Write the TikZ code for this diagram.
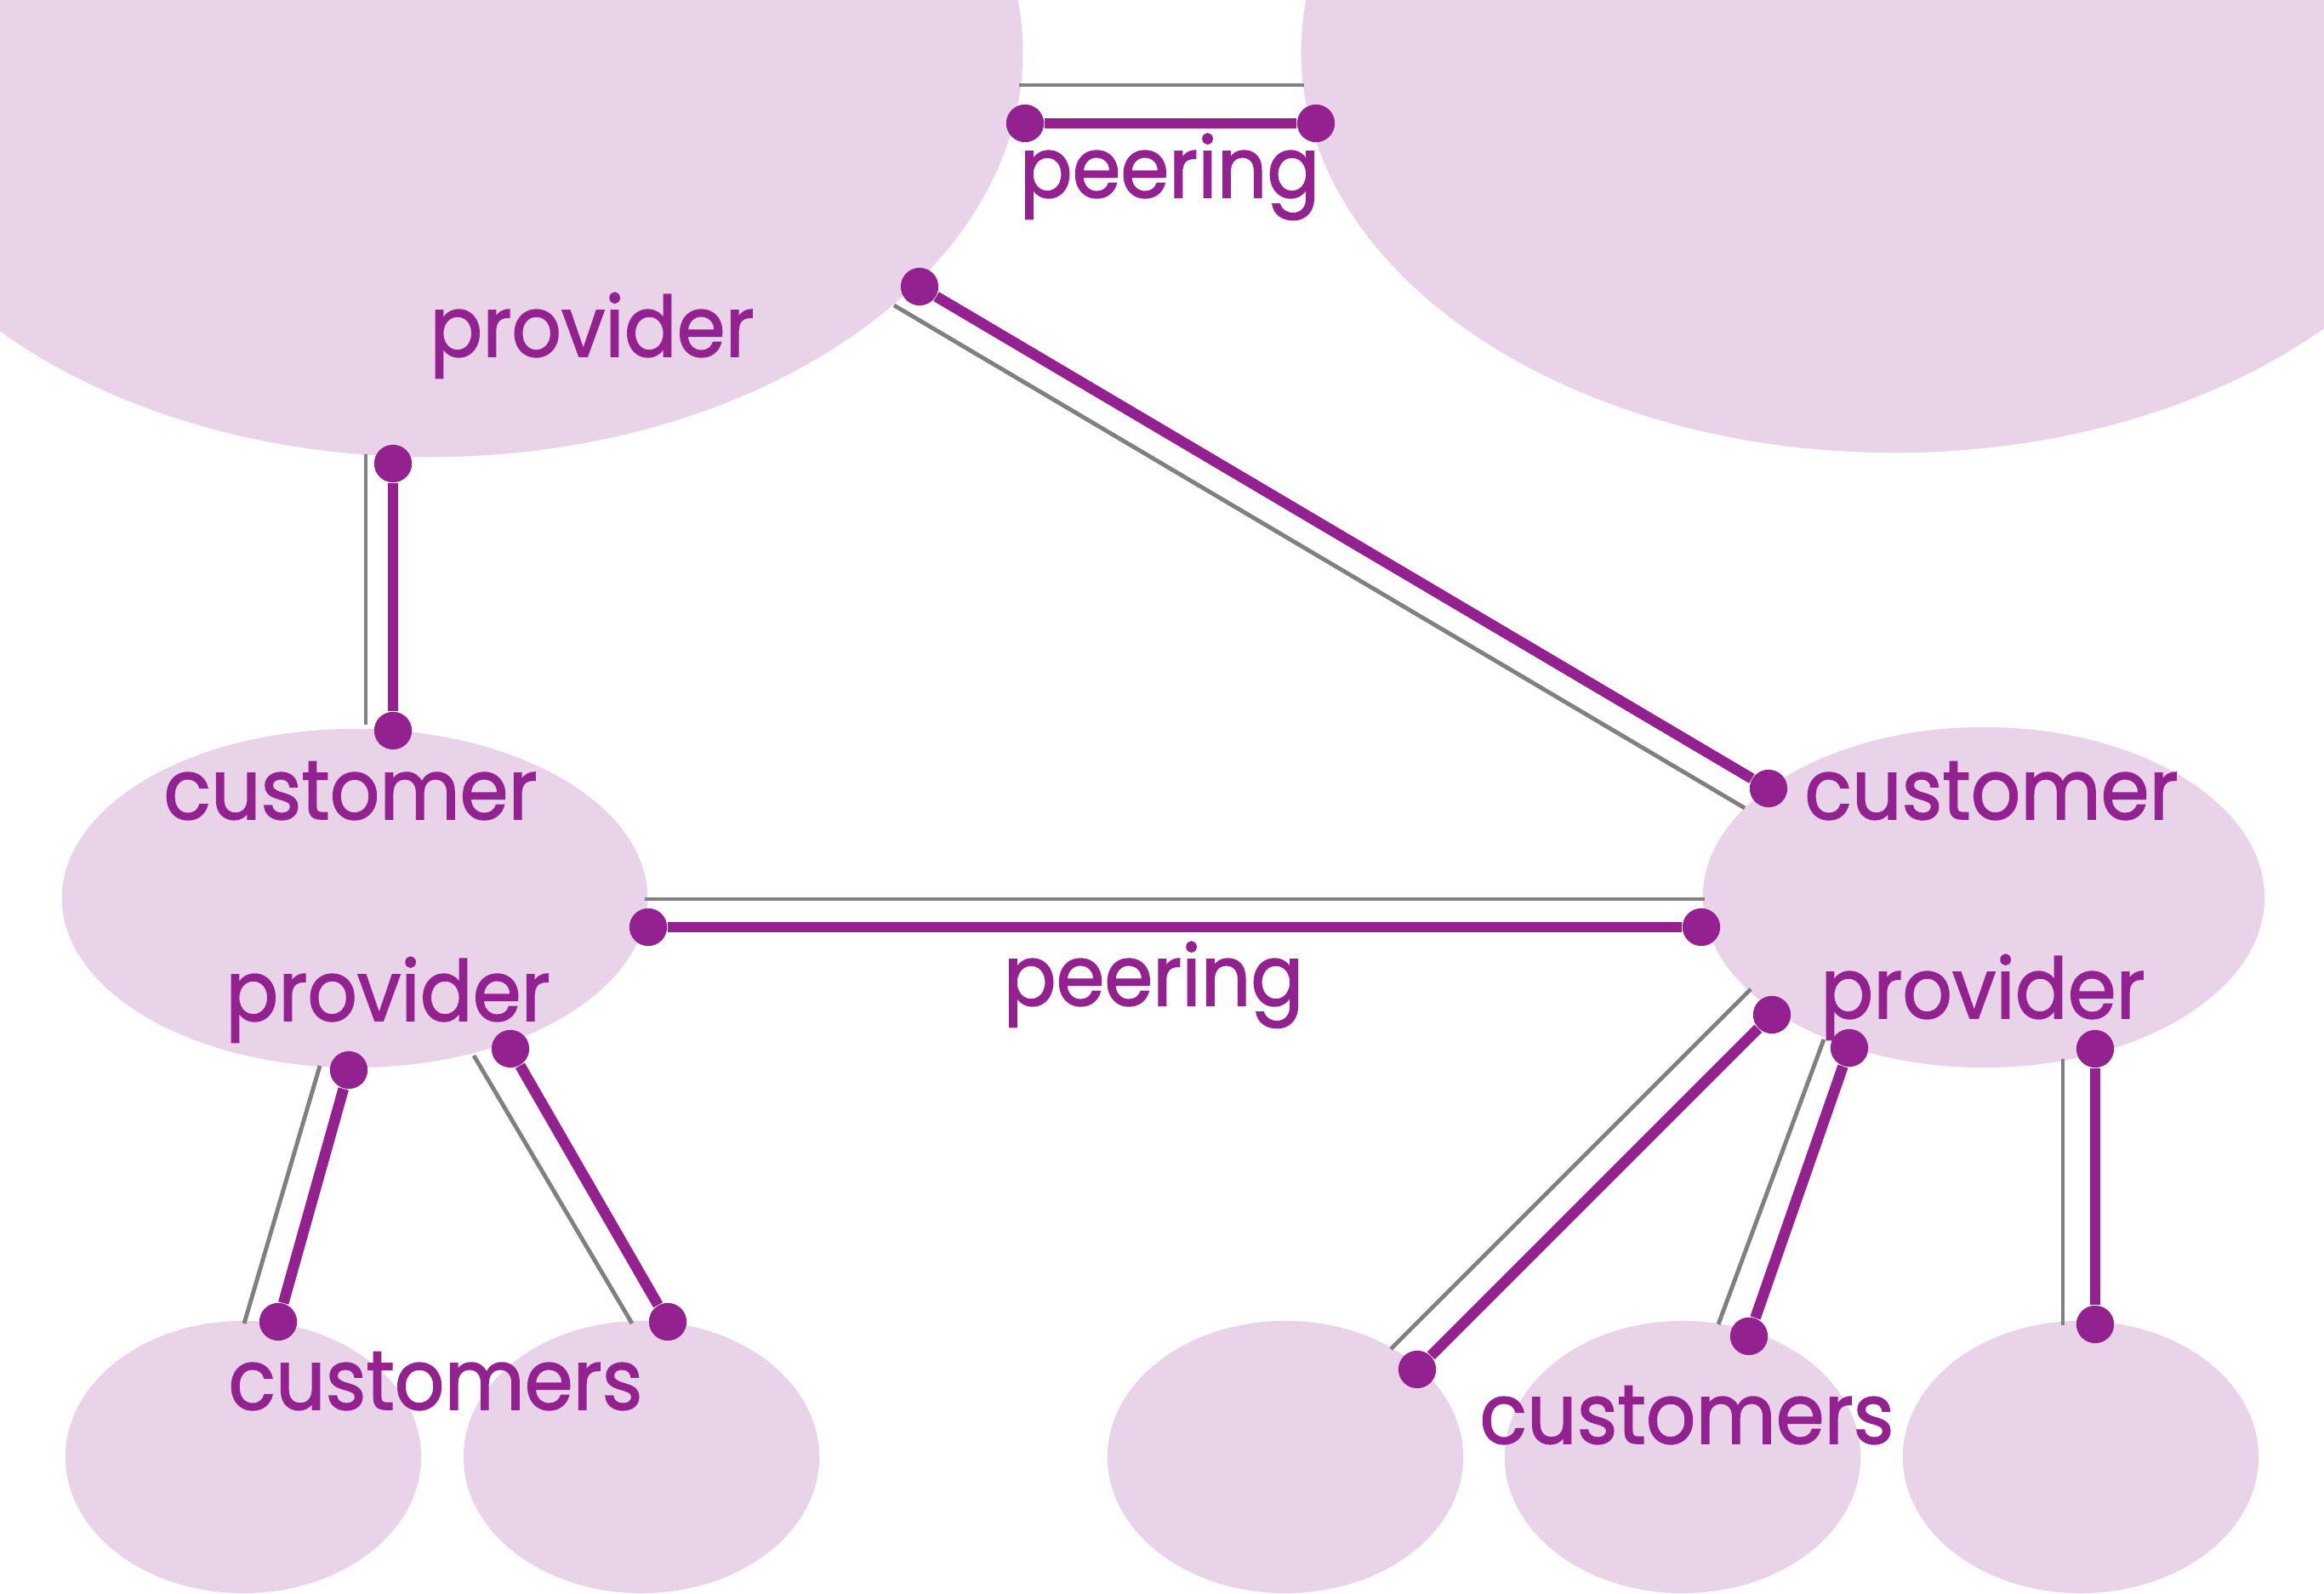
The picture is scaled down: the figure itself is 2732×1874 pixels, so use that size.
\documentclass[tikz,border=0pt]{standalone}
\usepackage{fontspec}
\usetikzlibrary{shapes.geometric}
\newfontfamily\asfont[FakeBold=1.6]{Poppins}
\definecolor{as_purple}{RGB}{147, 33, 143}
\definecolor{as_lilac}{RGB}{232, 211, 233}
\definecolor{as_grey}{RGB}{128, 128, 128}
\tikzstyle{as}=[ellipse,fill=as_lilac,inner sep=0pt]
\tikzstyle{lbl}=[text=as_purple,anchor=base,inner sep=0pt,xscale=0.93,
  font=\asfont\fontsize{28}{34}\selectfont]
\tikzstyle{ep}=[circle,fill=as_purple,inner sep=0pt,minimum size=12.6pt]
\tikzstyle{rel}=[draw=as_purple,line width=3.6pt]
\tikzstyle{old}=[draw=as_grey,line width=1.4pt]

\begin{document}
\begin{tikzpicture}[x=0.01cm,y=-0.01cm]
    \clip (0,0) rectangle (2732,1874);
    % autonomous systems
    \node [style=as,minimum width=13.94cm,minimum height=9.52cm] (tl) at (505,61) {};
    \node [style=as,minimum width=13.94cm,minimum height=9.42cm] (tr) at (2227,61) {};
    \node [style=as,minimum width=6.88cm,minimum height=3.98cm] (ml) at (417,1056) {};
    \node [style=as,minimum width=6.6cm,minimum height=4cm] (mr) at (2332,1055) {};
    \node [style=as,minimum width=4.18cm,minimum height=3.2cm] (b1) at (286,1713) {};
    \node [style=as,minimum width=4.18cm,minimum height=3.2cm] (b2) at (754,1713) {};
    \node [style=as,minimum width=4.18cm,minimum height=3.2cm] (b3) at (1511,1713) {};
    \node [style=as,minimum width=4.18cm,minimum height=3.2cm] (b4) at (1978,1713) {};
    \node [style=as,minimum width=4.18cm,minimum height=3.2cm] (b5) at (2446,1713) {};
    % grey traffic lines
    \coordinate (g1a) at (1198,100);  \coordinate (g1b) at (1533,100);
    \coordinate (g2a) at (430,534);   \coordinate (g2b) at (430,852);
    \coordinate (g3a) at (1051,359);  \coordinate (g3b) at (2051,950);
    \coordinate (g4a) at (758,1057);  \coordinate (g4b) at (2004,1057);
    \coordinate (g5a) at (376,1253);  \coordinate (g5b) at (287,1556);
    \coordinate (g6a) at (557,1241);  \coordinate (g6b) at (743,1556);
    \coordinate (g7a) at (2058,1163); \coordinate (g7b) at (1635,1586);
    \coordinate (g8a) at (2144,1222); \coordinate (g8b) at (2020,1557);
    \coordinate (g9a) at (2425,1245); \coordinate (g9b) at (2425,1558);
    \foreach \i in {1,...,9}
      \draw [style=old] (g\i a) to (g\i b);
    % link end points
    \node [style=ep] (p1a) at (1205,145) {};
    \node [style=ep] (p1b) at (1547,145) {};
    \node [style=ep] (p2a) at (462,545) {};
    \node [style=ep] (p2b) at (462,859) {};
    \node [style=ep] (p3a) at (1081,337) {};
    \node [style=ep] (p3b) at (2079,927) {};
    \node [style=ep] (p4a) at (762,1090) {};
    \node [style=ep] (p4b) at (2000,1090) {};
    \node [style=ep] (p5a) at (410,1258) {};
    \node [style=ep] (p5b) at (327,1554) {};
    \node [style=ep] (p6a) at (600,1233) {};
    \node [style=ep] (p6b) at (785,1554) {};
    \node [style=ep] (p7a) at (2083,1193) {};
    \node [style=ep] (p7b) at (1666,1610) {};
    \node [style=ep] (p8a) at (2174,1232) {};
    \node [style=ep] (p8b) at (2056,1571) {};
    \node [style=ep] (p9a) at (2463,1233) {};
    \node [style=ep] (p9b) at (2463,1557) {};
    \foreach \i in {1,...,9}
      \draw [style=rel] (p\i a) to (p\i b);
    % labels
    \node [style=lbl] (tlprov) at (696,419) {provider};
    \node [style=lbl] (toppeer) at (1375,232) {peering};
    \node [style=lbl] (mlcust) at (412,963) {customer};
    \node [style=lbl] (mlprov) at (456,1200) {provider};
    \node [style=lbl] (midpeer) at (1356,1182) {peering};
    \node [style=lbl] (mrcust) at (2341,963) {customer};
    \node [style=lbl] (mrprov) at (2331,1197) {provider};
    \node [style=lbl] (blcust) at (512,1657) {customers};
    \node [style=lbl] (brcust) at (1983,1697) {customers};
\end{tikzpicture}
\end{document}
